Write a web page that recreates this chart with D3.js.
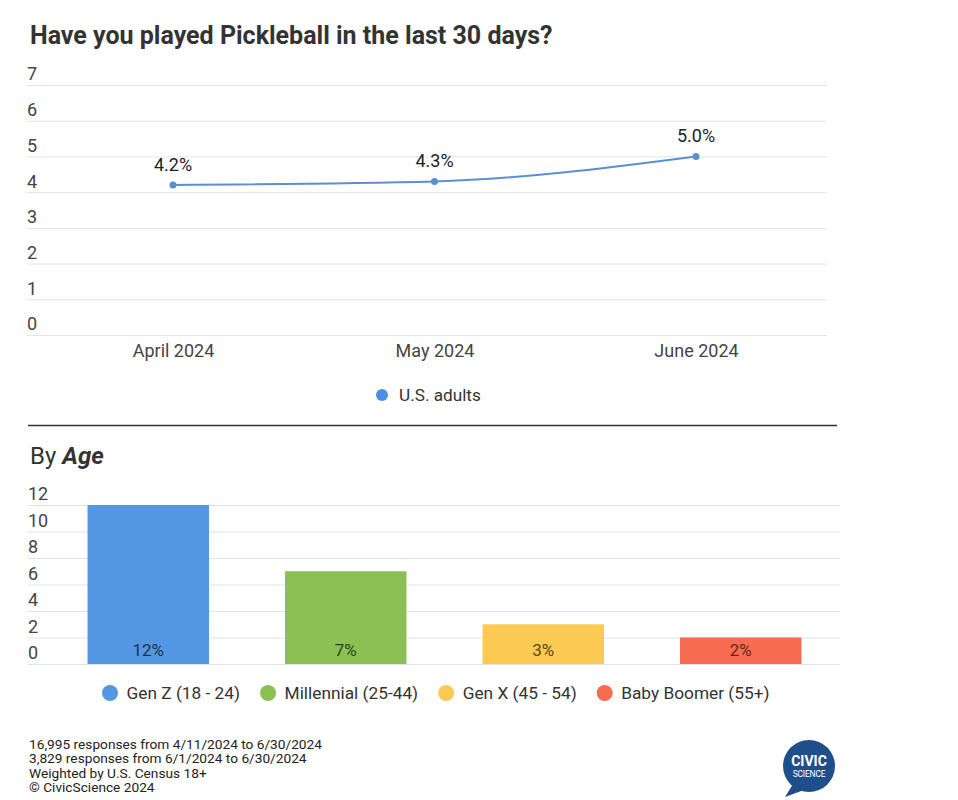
<!DOCTYPE html>
<html>
<head>
<meta charset="utf-8">
<script src="https://cdn.jsdelivr.net/npm/d3@7"></script>
<style>
  html, body { margin: 0; padding: 0; background: #fff; }
  svg { display: block; font-family: Roboto, "Noto Sans", sans-serif; }
</style>
</head>
<body>
<svg id="chart" width="958" height="800"></svg>
<script>
// ---------- data ----------
const months = ["April 2024", "May 2024", "June 2024"];
const adultValues = [4.2, 4.3, 5.0];
const adultLabels = ["4.2%", "4.3%", "5.0%"];
const lineTicks = [0, 1, 2, 3, 4, 5, 6, 7];
const lineSeriesName = "U.S. adults";

const ageGroups = ["Gen Z (18 - 24)", "Millennial (25-44)", "Gen X (45 - 54)", "Baby Boomer (55+)"];
const ageValues = [12, 7, 3, 2];
const ageLabels = ["12%", "7%", "3%", "2%"];
const barTicks = [0, 2, 4, 6, 8, 10, 12];

const footerLines = [
  "16,995 responses from 4/11/2024 to 6/30/2024",
  "3,829 responses from 6/1/2024 to 6/30/2024",
  "Weighted by U.S. Census 18+",
  "\u00A9 CivicScience 2024"
];

// ---------- styles ----------
const ageColors = ["#5497e3", "#8bc152", "#fcca52", "#f76c51"];
const ageLabelColors = ["#1d3350", "#2e4219", "#5a4712", "#6e2418"];
const lineColor = "#5b8fd2";
const gridColor = "#e3e3e3";
const axisText = "#444";

const svg = d3.select("#chart");

// Title
svg.append("text")
  .attr("x", 30).attr("y", 44)
  .attr("font-size", 25).attr("font-weight", 700).attr("fill", "#333")
  .text("Have you played Pickleball in the last 30 days?");

// ---------- line chart ----------
const yL = d3.scaleLinear().domain([0, 7]).range([335, 85]);
const xL = d3.scalePoint().domain(months).range([173, 696]);

svg.append("g").selectAll("line").data(lineTicks).join("line")
  .attr("x1", 27).attr("x2", 827)
  .attr("y1", d => yL(d) + 0.5).attr("y2", d => yL(d) + 0.5)
  .attr("stroke", gridColor).attr("stroke-width", 1);

const yAxisL = d3.axisLeft(yL).tickValues(lineTicks).tickFormat(d3.format("d")).tickSize(0).tickPadding(0);
svg.append("g").attr("transform", "translate(27,0)").call(yAxisL)
  .call(g => g.select(".domain").remove())
  .call(g => g.selectAll("text")
    .attr("text-anchor", "start").attr("x", 0).attr("dy", "-0.28em")
    .attr("font-size", 18).attr("fill", axisText).attr("font-family", "Roboto, sans-serif"));

const xAxisL = d3.axisBottom(xL).tickSize(0).tickPadding(0);
svg.append("g").attr("transform", "translate(0,357)").call(xAxisL)
  .call(g => g.select(".domain").remove())
  .call(g => g.selectAll("text")
    .attr("dy", 0).attr("y", 0)
    .attr("font-size", 18).attr("fill", axisText).attr("font-family", "Roboto, sans-serif"));

const lineGen = d3.line()
  .x((d, i) => xL(months[i]))
  .y(d => yL(d))
  .curve(d3.curveMonotoneX);

svg.append("path").datum(adultValues)
  .attr("d", lineGen).attr("fill", "none")
  .attr("stroke", lineColor).attr("stroke-width", 2);

svg.append("g").selectAll("circle").data(adultValues).join("circle")
  .attr("cx", (d, i) => xL(months[i])).attr("cy", d => yL(d))
  .attr("r", 3.5).attr("fill", lineColor);

svg.append("g").selectAll("text").data(adultValues).join("text")
  .attr("x", (d, i) => xL(months[i])).attr("y", d => yL(d) - 14)
  .attr("text-anchor", "middle").attr("font-size", 18).attr("fill", "#222")
  .text((d, i) => adultLabels[i]);

// line legend
const lg = svg.append("g").attr("transform", "translate(382,395)");
lg.append("circle").attr("r", 6).attr("fill", "#4a90e2");
lg.append("text").attr("x", 17).attr("y", 6.2)
  .attr("font-size", 17.2).attr("fill", "#333").text(lineSeriesName);

// separator
svg.append("line").attr("x1", 28).attr("x2", 837).attr("y1", 425.5).attr("y2", 425.5)
  .attr("stroke", "#333").attr("stroke-width", 1.5);

// By Age
const by = svg.append("text").attr("x", 30).attr("y", 464)
  .attr("font-size", 24).attr("fill", "#333");
by.append("tspan").text("By ");
by.append("tspan").attr("font-weight", 700).attr("font-style", "italic").text("Age");

// ---------- bar chart ----------
const yB = d3.scaleLinear().domain([0, 12]).range([664, 505]);
const xB = d3.scaleBand().domain(ageGroups).range([50, 839]).paddingInner(0.385).paddingOuter(0.19);

svg.append("g").selectAll("line").data(barTicks).join("line")
  .attr("x1", 28).attr("x2", 840)
  .attr("y1", d => yB(d) + 0.5).attr("y2", d => yB(d) + 0.5)
  .attr("stroke", gridColor).attr("stroke-width", 1);

const yAxisB = d3.axisLeft(yB).tickValues(barTicks).tickFormat(d3.format("d")).tickSize(0).tickPadding(0);
svg.append("g").attr("transform", "translate(28,0)").call(yAxisB)
  .call(g => g.select(".domain").remove())
  .call(g => g.selectAll("text")
    .attr("text-anchor", "start").attr("x", 0).attr("dy", "-0.28em")
    .attr("font-size", 18).attr("fill", axisText).attr("font-family", "Roboto, sans-serif"));

const colorB = d3.scaleOrdinal().domain(ageGroups).range(ageColors);
const labelColorB = d3.scaleOrdinal().domain(ageGroups).range(ageLabelColors);

svg.append("g").selectAll("rect").data(ageValues).join("rect")
  .attr("x", (d, i) => xB(ageGroups[i]))
  .attr("width", xB.bandwidth())
  .attr("y", d => yB(d))
  .attr("height", d => yB(0) - yB(d))
  .attr("fill", (d, i) => colorB(ageGroups[i]));

svg.append("g").selectAll("text").data(ageValues).join("text")
  .attr("x", (d, i) => xB(ageGroups[i]) + xB.bandwidth() / 2)
  .attr("y", yB(0) - 8)
  .attr("text-anchor", "middle").attr("font-size", 17)
  .attr("fill", (d, i) => labelColorB(ageGroups[i]))
  .text((d, i) => ageLabels[i]);

// bar legend
const legB = svg.append("g").attr("transform", "translate(110,693)");
let cx = 0;
ageGroups.forEach((name, i) => {
  const g = legB.append("g").attr("transform", `translate(${cx},0)`);
  g.append("circle").attr("r", 8).attr("fill", colorB(name));
  const t = g.append("text").attr("x", 16.5).attr("y", 6.2)
    .attr("font-size", 17.3).attr("fill", "#333").text(name);
  cx += 16.5 + t.node().getComputedTextLength() + 28;
});

// footer
svg.append("g").selectAll("text").data(footerLines).join("text")
  .attr("x", 29).attr("y", (d, i) => 749 + i * 14.3)
  .attr("font-size", 13.7).attr("fill", "#222").text(d => d);

// logo
const logo = svg.append("g").attr("transform", "translate(809,766)");
logo.append("path")
  .attr("d", "M-16,18 L-24,31 L-5,24 Z")
  .attr("fill", "#1f4f8b");
logo.append("circle").attr("r", 26).attr("fill", "#1f4f8b");
logo.append("text").attr("y", 0).attr("text-anchor", "middle")
  .attr("font-size", 14).attr("font-weight", 700).attr("fill", "#fff").text("CIVIC");
logo.append("text").attr("y", 11).attr("text-anchor", "middle")
  .attr("font-size", 8.5).attr("fill", "#fff").attr("letter-spacing", "-0.2").text("SCIENCE");
</script>
</body>
</html>
